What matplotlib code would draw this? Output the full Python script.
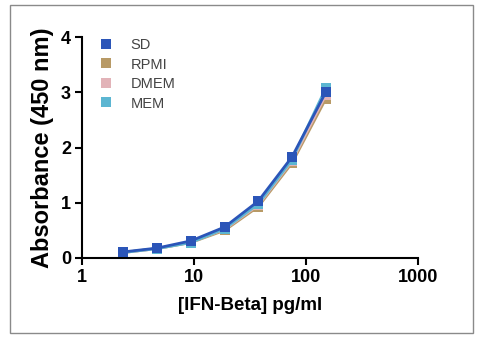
import matplotlib
matplotlib.use("Agg")
import matplotlib.pyplot as plt
from matplotlib.patches import Rectangle
from matplotlib.lines import Line2D
from matplotlib.ticker import FixedLocator, NullLocator

plt.rcParams['font.family'] = ['Liberation Sans', 'DejaVu Sans']

conc = [2.34, 4.69, 9.38, 18.75, 37.5, 75, 150]
series_names = ["SD", "RPMI", "DMEM", "MEM"]
sd = [0.11, 0.18, 0.31, 0.56, 1.03, 1.83, 3.00]
rpmi = [0.10, 0.17, 0.28, 0.50, 0.93, 1.72, 2.88]
dmem = [0.10, 0.17, 0.29, 0.52, 0.96, 1.76, 2.95]
mem = [0.10, 0.17, 0.28, 0.53, 0.98, 1.78, 3.07]
colors = ["#2b55b8", "#b89a66", "#e2b3b8", "#5cb6d2"]
xticks = [1, 10, 100, 1000]
yticks = [0, 1, 2, 3, 4]

fig = plt.figure(figsize=(4.82, 3.42), dpi=100)
fig.patches.append(Rectangle((10/482, 1 - 333/342), 463/482, 328/342,
                             transform=fig.transFigure, fill=False,
                             edgecolor="#8a8a8a", linewidth=1.0))
ax = fig.add_axes([82/482, 1 - 258/342, 336/482, 221/342])

data = [sd, rpmi, dmem, mem]
order = [1, 2, 3, 0]
for i in order:
    ax.plot(conc, data[i], color=colors[i], linewidth=2.0, marker="s",
            markersize=6.5, markeredgewidth=0, label=series_names[i],
            zorder=4 if i == 0 else 3)

ax.set_xscale("log")
ax.set_xlim(1, 1000)
ax.set_ylim(0, 4)
ax.xaxis.set_major_locator(FixedLocator(xticks))
ax.xaxis.set_minor_locator(NullLocator())
ax.set_xticks(xticks)
ax.set_xticklabels([str(t) for t in xticks])
ax.set_yticks(yticks)
for s in ["top", "right"]:
    ax.spines[s].set_visible(False)
for s in ["left", "bottom"]:
    ax.spines[s].set_linewidth(1.5)
ax.tick_params(axis="both", direction="out", length=5, width=1.5, labelsize=13, pad=3)
for lab in ax.get_xticklabels() + ax.get_yticklabels():
    lab.set_fontweight("bold")
ax.set_xlabel("[IFN-Beta] pg/ml", fontsize=13.5, fontweight="bold", labelpad=8)
ax.set_ylabel("Absorbance (450 nm)", fontsize=17, fontweight="bold", labelpad=5)

leg_handles = [Line2D([], [], linestyle="none", marker="s", markersize=6.5,
                      markeredgewidth=0, color=c) for c in colors]
leg = ax.legend(leg_handles, series_names, loc="upper left", frameon=False,
                bbox_to_anchor=(-0.01, 1.055), fontsize=10.5, handletextpad=0.65,
                labelspacing=0.38, labelcolor="#444444")

fig.savefig("out.png", dpi=100)
